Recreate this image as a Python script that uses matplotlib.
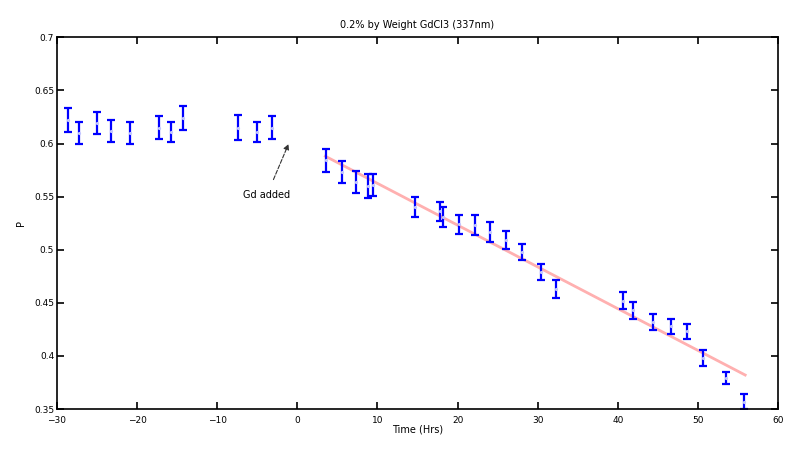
import numpy as np
import matplotlib.pyplot as plt
from matplotlib.ticker import FormatStrFormatter

# Datos antes de agregar Gd
t_before = [-28.6, -27.2, -25.0, -23.2, -20.9, -17.3, -15.8, -14.3, -7.4, -5.0, -3.1]
p_before = [0.622, 0.610, 0.619, 0.612, 0.610, 0.615, 0.611, 0.624, 0.615, 0.611, 0.615]
err_before = [0.0116, 0.0104, 0.0105, 0.0105, 0.0104, 0.0111, 0.0094, 0.0115, 0.0115, 0.0094, 0.0111]

# Datos despues de agregar Gd
t_after = [3.55, 5.54, 7.33, 8.86, 9.49, 14.7, 17.8, 18.2, 20.2, 22.2, 24.1, 26.1,
           28.1, 30.4, 32.3, 40.6, 41.9, 44.4, 46.7, 48.7, 50.6, 53.5, 55.7]
p_after = [0.584, 0.573, 0.564, 0.560, 0.561, 0.540, 0.536, 0.531, 0.524, 0.523, 0.517, 0.509,
           0.498, 0.479, 0.463, 0.452, 0.443, 0.432, 0.428, 0.423, 0.398, 0.379, 0.357]
err_after = [0.0106, 0.0104, 0.0105, 0.011, 0.0106, 0.0094, 0.0091, 0.0094, 0.0091, 0.0094, 0.0094, 0.0083,
             0.0078, 0.0078, 0.0082, 0.0083, 0.008, 0.0072, 0.0071, 0.0071, 0.0073, 0.0059, 0.0071]

# Recta de ajuste (extremos)
fit_t = [3.5, 55.9]
fit_p = [0.588, 0.382]

fig = plt.figure(figsize=(7.87, 4.51), dpi=100)
ax = fig.add_axes([0.0724, 0.0931, 0.9162, 0.8242])

ax.plot(fit_t, fit_p, color='#ff9c9c', linewidth=2, alpha=0.8, zorder=1)

t_all = t_before + t_after
p_all = p_before + p_after
err_all = err_before + err_after
ax.errorbar(t_all, p_all, yerr=err_all, fmt='o', markersize=1.3, color='#c0c4ff',
            ecolor='blue', elinewidth=1.6, capsize=2.8, capthick=1.6, zorder=2)

ax.annotate('Gd added', xy=(-1.1, 0.5995), xytext=(-3.8, 0.5515),
            ha='center', va='center', fontsize=7,
            arrowprops=dict(arrowstyle='-|>', color='#333333', linestyle='--',
                            linewidth=0.8, shrinkA=6, shrinkB=0, mutation_scale=8))

ax.set_xlim(-30, 60)
ax.set_ylim(0.35, 0.7)
ax.set_xticks(np.arange(-30, 61, 10))
ax.set_yticks([0.35, 0.4, 0.45, 0.5, 0.55, 0.6, 0.65, 0.7])
ax.yaxis.set_major_formatter(FormatStrFormatter('%g'))
ax.tick_params(direction='in', top=True, right=True, length=5, width=1.2, labelsize=6.5)
ax.tick_params(axis='y', pad=2)
ax.tick_params(axis='x', pad=5)
for s in ax.spines.values():
    s.set_linewidth(1.2)

ax.set_xlabel('Time (Hrs)', fontsize=7, labelpad=0)
ax.set_ylabel('P', fontsize=7, labelpad=6)
ax.set_title('0.2% by Weight GdCl3 (337nm)', fontsize=7, pad=7)

plt.savefig('out.png', dpi=100)
